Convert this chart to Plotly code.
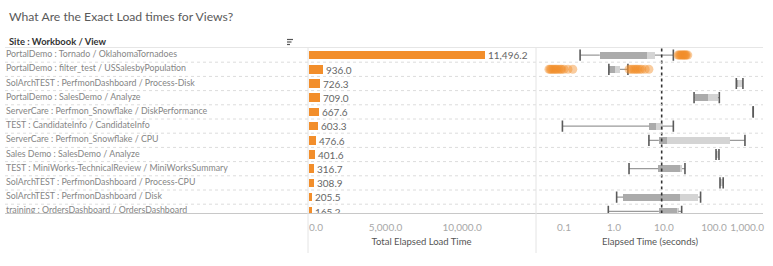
import plotly.graph_objects as go

W, H = 773, 266

# ---------------- data ----------------
views = [
    "PortalDemo : Tornado / OklahomaTornadoes",
    "PortalDemo : filter_test / USSalesbyPopulation",
    "SolArchTEST : PerfmonDashboard / Process-Disk",
    "PortalDemo : SalesDemo / Analyze",
    "ServerCare : Perfmon_Snowflake / DiskPerformance",
    "TEST : CandidateInfo / CandidateInfo",
    "ServerCare : Perfmon_Snowflake / CPU",
    "Sales Demo : SalesDemo / Analyze",
    "TEST : MiniWorks-TechnicalReview / MiniWorksSummary",
    "SolArchTEST : PerfmonDashboard / Process-CPU",
    "SolArchTEST : PerfmonDashboard / Disk",
    "training : OrdersDashboard / OrdersDashboard",
]
total_load = [11496.2, 936.0, 726.3, 709.0, 667.6, 603.3, 476.6, 401.6, 316.7, 308.9, 205.5, 165.2]

# box plot statistics of elapsed time (seconds)
whisk_lo = [0.21, 0.79, 280, 40, 610, 0.093, 5.0, 110, 2.0, 132, 1.13, 0.77]
q1       = [0.52, 0.79, 280, 41, 610, 5.1, 7.9, 110, 7.7, 133, 1.53, 7.9]
median   = [4.5, 1.05, 300, 77, 610, 6.8, 11.3, 115, 21, 140, 21, 18.5]
q3       = [6.6, 1.32, 375, 120, 610, 9.4, 209, 124, 23, 150, 48.6, 19.3]
whisk_hi = [15.4, 1.9, 380, 128, 610, 15.4, 417, 126, 26.3, 153, 54, 22.6]

# outliers (row index, elapsed seconds)
outlier_row = [0]*11 + [1]*13 + [1]*10
outlier_val = [19, 20, 21, 22, 23, 24, 25, 26, 27, 28, 30,
               0.050, 0.053, 0.056, 0.060, 0.064, 0.068, 0.072, 0.078, 0.085, 0.090, 0.10, 0.12, 0.15,
               2.0, 2.2, 2.4, 2.6, 2.8, 3.0, 3.3, 3.6, 4.2, 5.0]

ref_line = 9.0  # average elapsed time

bar_ticks = [0, 5000, 10000]
bar_ticktext = ["0.0", "5,000.0", "10,000.0"]
log_ticks = [0.1, 1, 10, 100, 1000]
log_ticktext = ["0.1", "1.0", "10.0", "100.0", "1,000.0"]

# ---------------- layout helpers ----------------
FONT = "Lato"
rows = list(range(len(views)))
px_x = lambda p: p / W
px_y = lambda p: 1 - p / H
y_top, y_bot = 48, 213.5
row_h = 14.2
y_range = [-0.5 + (y_bot - y_top) / row_h, -0.5]
bar_range = [-65, 14760]
log_range = [-1.56, 3.001]

ORANGE = "#f28e2b"

fig = go.Figure()

# row labels (clipped by the plot area)
fig.add_trace(go.Scatter(
    x=[6]*len(views), y=rows, text=views, mode="text", textposition="middle right",
    textfont=dict(family=FONT, size=8.8, color="#858585"), xaxis="x", yaxis="y",
    hoverinfo="skip", showlegend=False))

# bars
fig.add_trace(go.Bar(
    x=total_load, y=rows, orientation="h", width=0.6, marker=dict(color=ORANGE, line=dict(width=0)),
    text=[f"{v:,.1f}" for v in total_load], textposition="outside", constraintext="none",
    textfont=dict(family=FONT, size=10, color="#666666"), cliponaxis=True,
    xaxis="x2", yaxis="y", showlegend=False))

# box parts
fig.add_trace(go.Bar(
    base=q1, x=[m - a for m, a in zip(median, q1)], y=rows, orientation="h", width=0.48,
    marker=dict(color="#ababab", line=dict(width=0)), xaxis="x3", yaxis="y", showlegend=False))
fig.add_trace(go.Bar(
    base=median, x=[b - m for b, m in zip(q3, median)], y=rows, orientation="h", width=0.48,
    marker=dict(color="#d4d4d4", line=dict(width=0)), xaxis="x3", yaxis="y", showlegend=False))

# whiskers
wx, wy = [], []
for i in rows:
    wx += [whisk_lo[i], q1[i], None, q3[i], whisk_hi[i], None]
    wy += [i, i, None, i, i, None]
fig.add_trace(go.Scatter(x=wx, y=wy, mode="lines", line=dict(color="#9a9a9a", width=1.2),
                         xaxis="x3", yaxis="y", hoverinfo="skip", showlegend=False))
fig.add_trace(go.Scatter(
    x=whisk_lo + whisk_hi, y=rows + rows, mode="markers",
    marker=dict(symbol="line-ns", size=8, line=dict(width=1.6, color="#5a5a5a")),
    xaxis="x3", yaxis="y", hoverinfo="skip", showlegend=False))

# outliers
fig.add_trace(go.Scatter(
    x=outlier_val, y=outlier_row, mode="markers",
    marker=dict(size=9, color=ORANGE, opacity=0.45, line=dict(width=0)),
    xaxis="x3", yaxis="y", showlegend=False))

# reference line
fig.add_trace(go.Scatter(
    x=[ref_line, ref_line], y=y_range, mode="lines",
    line=dict(color="#333333", width=1.6, dash="dot"),
    xaxis="x3", yaxis="y", hoverinfo="skip", showlegend=False))

# empty traces so the overlay axes (edge tick labels) get drawn
fig.add_trace(go.Scatter(x=[], y=[], xaxis="x4", yaxis="y", showlegend=False))
fig.add_trace(go.Scatter(x=[], y=[], xaxis="x5", yaxis="y", showlegend=False))

d_lab = [0, 300 / W]
d_bar = [308 / W, 535 / W]
d_box = [536 / W, 764 / W]
tickfont = dict(family=FONT, size=10, color="#a8a8a8")
titlefont = dict(family=FONT, size=9.5, color="#555555")

shapes = []
for i in range(len(views) - 1):
    shapes.append(dict(type="line", xref="paper", yref="y", x0=px_x(5), x1=px_x(763),
                       y0=i + 0.5, y1=i + 0.5, line=dict(color="#dcdcdc", width=1, dash="dot")))
shapes.append(dict(type="line", xref="paper", yref="paper", x0=px_x(5), x1=px_x(763),
                   y0=px_y(47.5), y1=px_y(47.5), line=dict(color="#e6e6e6", width=1)))
shapes.append(dict(type="line", xref="paper", yref="paper", x0=px_x(5), x1=px_x(763),
                   y0=px_y(y_bot), y1=px_y(y_bot), line=dict(color="#c8c8c8", width=1)))
for xv in (308, 536):
    shapes.append(dict(type="line", xref="paper", yref="paper", x0=px_x(xv), x1=px_x(xv),
                       y0=px_y(48), y1=px_y(253), line=dict(color="#e4e4e4", width=1)))
# sort icon
for k, (xa, xb) in enumerate([(287, 293), (287, 291.5), (287, 290)]):
    yy = 39.5 + k * 2.5
    shapes.append(dict(type="line", xref="paper", yref="paper", x0=px_x(xa), x1=px_x(xb),
                       y0=px_y(yy), y1=px_y(yy), line=dict(color="#555555", width=1.2)))

common = dict(showgrid=False, zeroline=False, showline=False, ticks="", tickfont=tickfont,
              ticklabelstandoff=6, anchor="y")
fig.update_layout(
    width=W, height=H, margin=dict(l=0, r=0, t=0, b=0),
    paper_bgcolor="white", plot_bgcolor="rgba(0,0,0,0)",
    barmode="overlay", bargap=0, showlegend=False,
    font=dict(family=FONT, size=10, color="#555555"),
    yaxis=dict(domain=[px_y(y_bot), px_y(y_top)], range=y_range, visible=False, fixedrange=True),
    xaxis=dict(domain=d_lab, range=[0, 300], visible=False, anchor="y"),
    xaxis2=dict(domain=d_bar, range=bar_range, tickvals=bar_ticks[1:], ticktext=bar_ticktext[1:],
                title=dict(text="Total Elapsed Load Time", font=titlefont, standoff=6), **common),
    xaxis4=dict(overlaying="x2", range=bar_range, side="bottom",
                tickvals=bar_ticks[:1], ticktext=bar_ticktext[:1],
                ticklabelposition="outside right", **common),
    xaxis3=dict(domain=d_box, type="log", range=log_range,
                tickvals=log_ticks[:-1], ticktext=log_ticktext[:-1],
                title=dict(text="Elapsed Time (seconds)", font=titlefont, standoff=6), **common),
    xaxis5=dict(overlaying="x3", type="log", range=log_range, side="bottom",
                tickvals=log_ticks[-1:], ticktext=log_ticktext[-1:],
                ticklabelposition="outside left", **common),
    shapes=shapes,
    annotations=[
        dict(text="What Are the Exact Load times for Views?", xref="paper", yref="paper",
             x=px_x(7), y=px_y(16), xanchor="left", yanchor="middle", showarrow=False,
             font=dict(family=FONT, size=12.2, color="#5a5a5a")),
        dict(text="<b>Site : Workbook / View</b>", xref="paper", yref="paper",
             x=px_x(7), y=px_y(41), xanchor="left", yanchor="middle", showarrow=False,
             font=dict(family=FONT, size=9.4, color="#333333")),
    ],
)

fig.write_html("out.html")
